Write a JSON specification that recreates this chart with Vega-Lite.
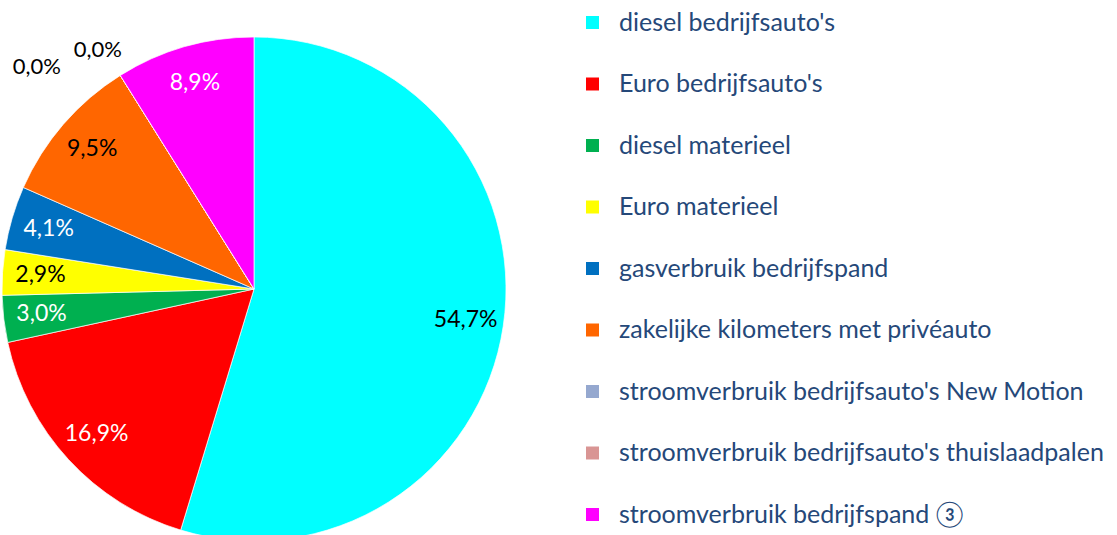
{
  "$schema": "https://vega.github.io/schema/vega-lite/v6.json",
  "autosize": {"type": "none"},
  "width": 508,
  "height": 578,
  "padding": {"left": 0, "top": 0, "right": 609, "bottom": 0},
  "background": "white",
  "config": {"view": {"stroke": null}, "font": "Lato"},
  "data": {
    "values": [
      {"idx": 1, "category": "diesel bedrijfsauto's", "share": 54.7},
      {"idx": 2, "category": "Euro bedrijfsauto's", "share": 16.9},
      {"idx": 3, "category": "diesel materieel", "share": 3.0},
      {"idx": 4, "category": "Euro materieel", "share": 2.9},
      {"idx": 5, "category": "gasverbruik bedrijfspand", "share": 4.1},
      {"idx": 6, "category": "zakelijke kilometers met privéauto", "share": 9.5},
      {"idx": 7, "category": "stroomverbruik bedrijfsauto's New Motion", "share": 0.0},
      {"idx": 8, "category": "stroomverbruik bedrijfsauto's thuislaadpalen", "share": 0.0},
      {"idx": 9, "category": "stroomverbruik bedrijfspand ③", "share": 8.9}
    ]
  },
  "transform": [
    {"calculate": "replace(format(datum.share, '.1f'), '.', ',') + '%'", "as": "label"},
    {"stack": "share", "groupby": [], "sort": [{"field": "idx", "order": "ascending"}], "as": ["t0", "t1"]},
    {"calculate": "(datum.t0 + datum.t1) / 2", "as": "tmid"}
  ],
  "layer": [
    {
      "mark": {"type": "arc", "outerRadius": 252, "stroke": "white", "strokeWidth": 0.7},
      "encoding": {
        "theta": {"field": "t0", "type": "quantitative", "scale": {"domain": [0, 100]}},
        "theta2": {"field": "t1"},
        "color": {
          "field": "category",
          "type": "nominal",
          "sort": null,
          "scale": {
            "domain": [
              "diesel bedrijfsauto's",
              "Euro bedrijfsauto's",
              "diesel materieel",
              "Euro materieel",
              "gasverbruik bedrijfspand",
              "zakelijke kilometers met privéauto",
              "stroomverbruik bedrijfsauto's New Motion",
              "stroomverbruik bedrijfsauto's thuislaadpalen",
              "stroomverbruik bedrijfspand ③"
            ],
            "range": ["#00FFFF", "#FF0000", "#00B050", "#FFFF00", "#0070C0", "#FF6600", "#95A8CF", "#D99594", "#FF00FF"]
          },
          "legend": {
            "orient": "none",
            "legendX": 580,
            "legendY": 10,
            "title": null,
            "padding": 0,
            "symbolType": "square",
            "symbolSize": 169,
            "symbolStrokeWidth": 0,
            "labelFontSize": 25,
            "labelFont": "Lato",
            "labelColor": "#254879",
            "labelOffset": 14,
            "labelLimit": 600,
            "rowPadding": 35.5
          }
        }
      }
    },
    {
      "transform": [{"filter": "datum.share > 0"}],
      "mark": {"type": "text", "radius": 214, "fontSize": 23, "font": "Lato", "baseline": "middle", "align": "center"},
      "encoding": {
        "theta": {"field": "tmid", "type": "quantitative", "scale": {"domain": [0, 100]}},
        "text": {"field": "label"},
        "color": {
          "condition": {"test": "indexof(['Euro bedrijfsauto\\'s', 'diesel materieel', 'gasverbruik bedrijfspand', 'stroomverbruik bedrijfspand ③'], datum.category) >= 0", "value": "white"},
          "value": "black"
        }
      }
    },
    {
      "transform": [{"filter": "datum.idx == 8"}],
      "mark": {"type": "text", "radius": 285, "dx": -5, "dy": 3, "fontSize": 22, "font": "Lato", "baseline": "middle", "align": "center", "color": "black"},
      "encoding": {
        "theta": {"field": "tmid", "type": "quantitative", "scale": {"domain": [0, 100]}},
        "text": {"field": "label"}
      }
    },
    {
      "transform": [{"filter": "datum.idx == 7"}],
      "mark": {"type": "text", "radius": 285, "dx": -66, "dy": 20, "fontSize": 22, "font": "Lato", "baseline": "middle", "align": "center", "color": "black"},
      "encoding": {
        "theta": {"field": "tmid", "type": "quantitative", "scale": {"domain": [0, 100]}},
        "text": {"field": "label"}
      }
    }
  ]
}
